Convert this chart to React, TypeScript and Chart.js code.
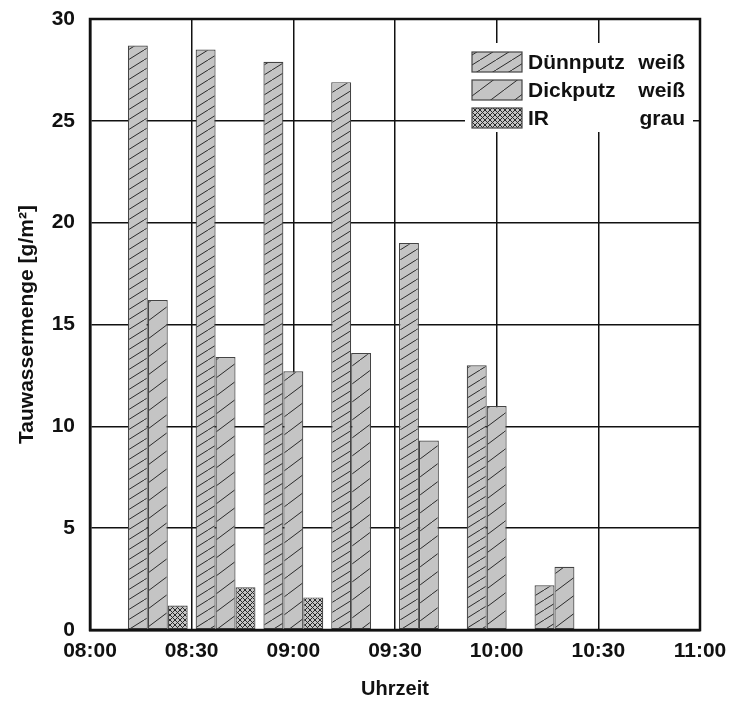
import React, { useEffect, useRef } from "react";
import { Chart, registerables } from "chart.js";

Chart.register(...registerables);

// ---- data ----
const times = ["08:20", "08:40", "09:00", "09:20", "09:40", "10:00", "10:20"];
const duennputz = [28.7, 28.5, 27.9, 26.9, 19.0, 13.0, 2.2];
const dickputz = [16.2, 13.4, 12.7, 13.6, 9.3, 11.0, 3.1];
const ir: (number | null)[] = [1.2, 2.1, 1.6, null, null, null, null];
const seriesNames = ["Dünnputz", "Dickputz", "IR"];
const seriesColours = ["weiß", "weiß", "grau"];
const xStart = "08:00";
const xEnd = "11:00";
const xStepMinutes = 30;
const yMin = 0;
const yMax = 30;
const yStep = 5;
const yTitle = "Tauwassermenge [g/m²]";
const xTitle = "Uhrzeit";

const toMin = (s: string) => {
  const [h, m] = s.split(":").map(Number);
  return h * 60 + m;
};
const fmt = (v: number) => {
  const h = Math.floor(v / 60);
  const m = Math.round(v - h * 60);
  return `${String(h).padStart(2, "0")}:${String(m).padStart(2, "0")}`;
};

const FONT = '"Liberation Sans", Arial, sans-serif';

function makePattern(
  ctx: CanvasRenderingContext2D,
  w: number,
  h: number,
  cross: boolean
) {
  const c = document.createElement("canvas");
  c.width = w;
  c.height = h;
  const g = c.getContext("2d")!;
  g.fillStyle = "#c4c4c4";
  g.fillRect(0, 0, w, h);
  g.strokeStyle = "#2a2a2a";
  g.lineWidth = 1;
  g.beginPath();
  for (const dx of [-w, 0, w]) {
    g.moveTo(dx, h);
    g.lineTo(dx + w, 0);
  }
  if (cross) {
    for (const dx of [-w, 0, w]) {
      g.moveTo(dx, 0);
      g.lineTo(dx + w, h);
    }
  }
  g.stroke();
  return ctx.createPattern(c, "repeat")!;
}

export default function App() {
  const ref = useRef<HTMLCanvasElement>(null);

  useEffect(() => {
    document.body.style.margin = "0";
    const canvas = ref.current!;
    const ctx = canvas.getContext("2d")!;
    const patterns = [
      makePattern(ctx, 16, 10, false),
      makePattern(ctx, 24, 18, false),
      makePattern(ctx, 5, 5, true),
    ];
    const values = [duennputz, dickputz, ir];

    const framePlugin = {
      id: "frame",
      afterDatasetsDraw(chart: any) {
        const { ctx: c, chartArea } = chart;
        const { left, top, right, bottom } = chartArea;
        c.save();
        c.strokeStyle = "#111";
        c.lineWidth = 2.5;
        c.strokeRect(left, top, right - left, bottom - top);
        c.restore();
      },
    };

    const legendPlugin = {
      id: "customLegend",
      afterDraw(chart: any) {
        const { ctx: c, chartArea } = chart;
        const { top, right } = chartArea;
        c.save();
        c.fillStyle = "#fff";
        c.fillRect(right - 235, top + 24, 228, 89);
        for (let i = 0; i < 3; i++) {
          const cy = top + 43 + i * 28;
          const sx = right - 228;
          c.fillStyle = patterns[i];
          c.fillRect(sx, cy - 10, 50, 20);
          c.strokeStyle = "#444";
          c.lineWidth = 1.2;
          c.strokeRect(sx, cy - 10, 50, 20);
          c.fillStyle = "#111";
          c.font = `bold 21px ${FONT}`;
          c.textBaseline = "middle";
          c.textAlign = "left";
          c.fillText(seriesNames[i], right - 172, cy + 1);
          c.textAlign = "right";
          c.fillText(seriesColours[i], right - 15, cy + 1);
        }
        c.restore();
      },
    };

    const chart = new Chart(canvas, {
      type: "bar",
      data: {
        datasets: values.map((vals, i) => ({
          label: seriesNames[i],
          data: times.map((t, j) => ({ x: toMin(t), y: vals[j] })) as any,
          backgroundColor: patterns[i],
          borderColor: "#444",
          borderWidth: 1.2,
          borderSkipped: false,
          categoryPercentage: 60 / 68,
          barPercentage: 1,
        })),
      },
      options: {
        animation: false,
        responsive: false,
        devicePixelRatio: 1,
        layout: { padding: { top: 19, right: 33, left: 0, bottom: 0 } },
        plugins: {
          legend: { display: false },
          tooltip: { enabled: false },
        },
        scales: {
          x: {
            type: "linear",
            min: toMin(xStart),
            max: toMin(xEnd),
            offset: false,
            afterFit: (s: any) => {
              s.height = 72;
              s.paddingLeft = 0;
              s.paddingRight = 0;
              s.paddingTop = 0;
              s.paddingBottom = 0;
            },
            ticks: {
              stepSize: xStepMinutes,
              callback: (v: any) => fmt(Number(v)),
              font: { family: FONT, size: 21, weight: "bold" },
              color: "#111",
              padding: 9,
              maxRotation: 0,
              autoSkip: false,
            },
            grid: {
              color: "#111",
              lineWidth: 1.5,
              drawTicks: false,
              offset: false,
            },
            border: { display: true, color: "#111", width: 2.5 },
            title: {
              display: true,
              text: xTitle,
              font: { family: FONT, size: 20, weight: "bold" },
              color: "#111",
              padding: { top: 0, bottom: 1 },
            },
          },
          y: {
            type: "linear",
            min: yMin,
            max: yMax,
            afterFit: (s: any) => {
              s.width = 90;
              s.paddingLeft = 0;
              s.paddingRight = 0;
              s.paddingTop = 0;
              s.paddingBottom = 0;
            },
            ticks: {
              stepSize: yStep,
              font: { family: FONT, size: 21, weight: "bold" },
              color: "#111",
              padding: 15,
            },
            grid: { color: "#111", lineWidth: 1.5, drawTicks: false },
            border: { display: true, color: "#111", width: 2.5 },
            title: {
              display: true,
              text: yTitle,
              font: { family: FONT, size: 21, weight: "bold" },
              color: "#111",
              padding: { top: 15, bottom: 0 },
            },
          },
        },
      },
      plugins: [framePlugin, legendPlugin],
    });
    return () => chart.destroy();
  }, []);

  return (
    <div style={{ width: 733, height: 702 }}>
      <canvas ref={ref} width={733} height={702} style={{ display: "block" }} />
    </div>
  );
}
